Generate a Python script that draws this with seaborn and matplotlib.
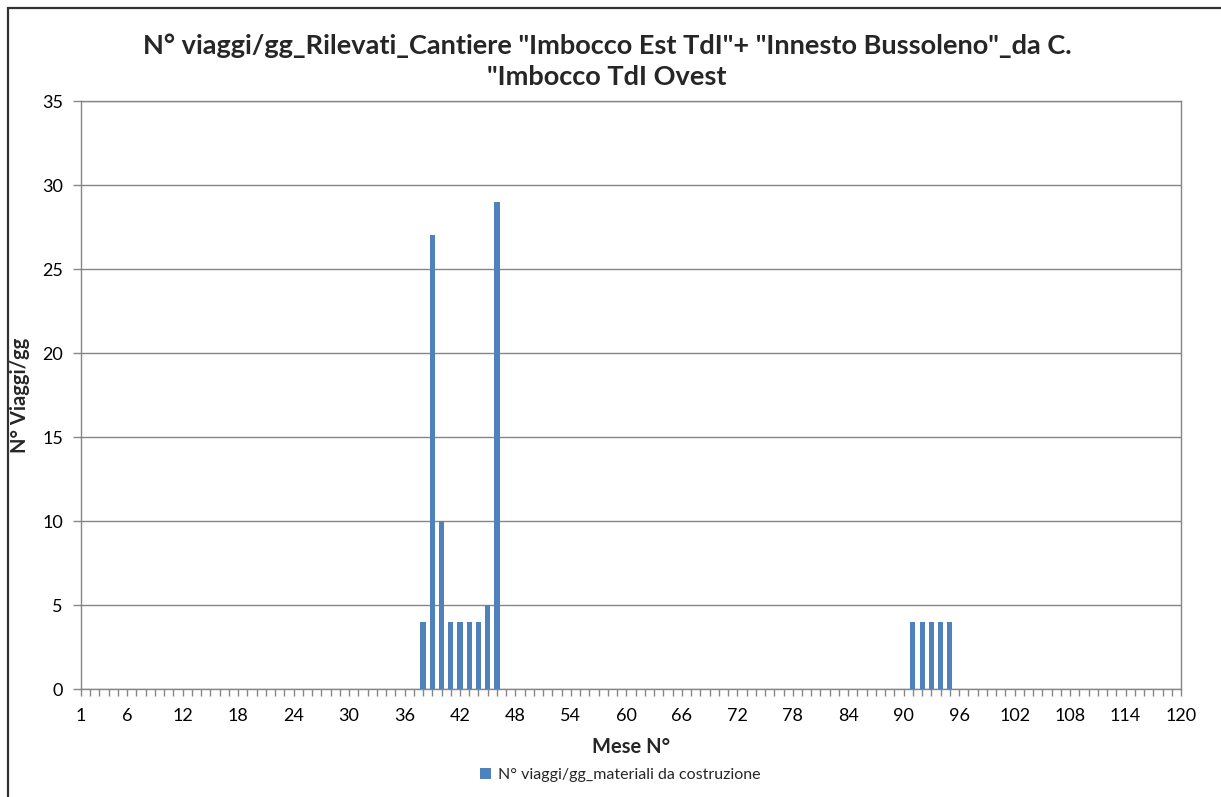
import matplotlib
matplotlib.use("Agg")
import matplotlib.pyplot as plt
from matplotlib.patches import Rectangle
from matplotlib.ticker import FixedLocator, MultipleLocator
import numpy as np
import pandas as pd
import seaborn as sns

# Months with recorded trips and the number of trips per day in each
active_months = [38, 39, 40, 41, 42, 43, 44, 45, 46, 91, 92, 93, 94, 95]
trips_per_day = [4, 27, 10, 4, 4, 4, 4, 5, 29, 4, 4, 4, 4, 4]

n_months = 120
month_ticks = [1, 6, 12, 18, 24, 30, 36, 42, 48, 54, 60, 66, 72, 78, 84, 90,
               96, 102, 108, 114, 120]
y_ticks = [0, 5, 10, 15, 20, 25, 30, 35]

title_text = ('N° viaggi/gg_Rilevati_Cantiere "Imbocco Est TdI"+ "Innesto Bussoleno"_da C.\n'
              '"Imbocco TdI Ovest')
series_name = "N° viaggi/gg_materiali da costruzione"

months = np.arange(1, n_months + 1)
trips = pd.Series(0, index=months, dtype=float)
trips.loc[active_months] = trips_per_day
df = pd.DataFrame({"Mese": months, "Viaggi": trips.values})

sns.set_theme(style="white")
plt.rcParams["font.family"] = ["Lato", "DejaVu Sans"]

bar_color = "#4F81BD"
axis_grey = "#868686"

fig = plt.figure(figsize=(12.21, 7.97), dpi=100)
ax = fig.add_axes([81 / 1221, 1 - 689 / 797, 1100 / 1221, 588 / 797])

sns.barplot(data=df, x="Mese", y="Viaggi", native_scale=True, width=0.55,
            color=bar_color, saturation=1, linewidth=0, ax=ax, zorder=3)

ax.set_xlim(1, 120)
ax.set_ylim(0, 35)
ax.yaxis.set_major_locator(FixedLocator(y_ticks))
ax.xaxis.set_major_locator(FixedLocator(month_ticks))
ax.xaxis.set_minor_locator(MultipleLocator(1))
ax.set_xticklabels([str(m) for m in month_ticks])

ax.grid(axis="y", color=axis_grey, linewidth=1.0, zorder=0)
ax.grid(axis="x", visible=False)
for side in ["left", "right", "top", "bottom"]:
    ax.spines[side].set_visible(True)
    ax.spines[side].set_color(axis_grey)
    ax.spines[side].set_linewidth(1.0)

ax.tick_params(axis="y", which="major", direction="out", length=6, width=1,
               color=axis_grey, labelsize=13, labelcolor="black", pad=7, left=True)
ax.tick_params(axis="x", which="both", direction="out", length=5, width=1,
               color=axis_grey, labelsize=13, labelcolor="black", pad=9, bottom=True)

ax.set_xlabel("Mese N°", fontsize=14.5, fontweight="bold", labelpad=9)
ax.set_ylabel("N° Viaggi/gg", fontsize=14.5, fontweight="bold")
ax.yaxis.set_label_coords(-0.046, 0.5)

fig.text(0.497, 1 - 61 / 797, title_text, ha="center", va="center",
         fontsize=19.5, fontweight="bold", linespacing=1.35)

# legend below the axis title
handle = Rectangle((0, 0), 1, 1, facecolor=bar_color, edgecolor="none")
fig.legend([handle], [series_name], loc="center", bbox_to_anchor=(620 / 1221, 1 - 775 / 797),
           frameon=False, fontsize=11.5, handlelength=0.7, handleheight=0.7,
           handletextpad=0.4)

# outer chart frame
fig.patches.append(Rectangle((8 / 1221, -0.05), 1.2, 1 - 8 / 797 + 0.05,
                             transform=fig.transFigure, fill=False,
                             edgecolor="#333333", linewidth=1.6))

fig.savefig("out.png", dpi=100)
